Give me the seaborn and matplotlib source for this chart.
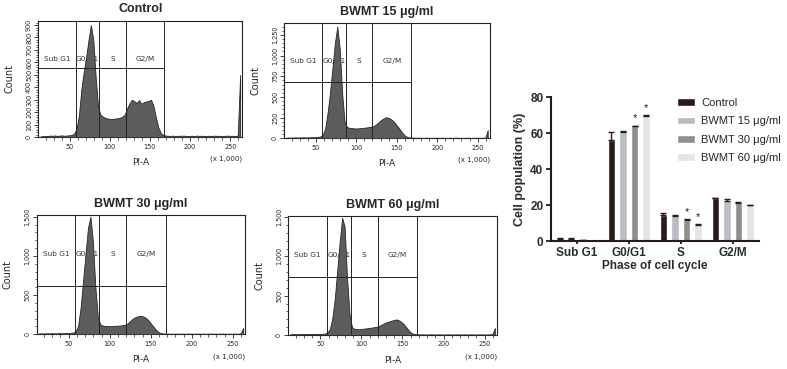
import matplotlib
matplotlib.use("Agg")
import matplotlib.pyplot as plt
import matplotlib.transforms as mtransforms
from matplotlib.ticker import MultipleLocator, FixedLocator, FuncFormatter
import numpy as np
import pandas as pd
import seaborn as sns

# ---------- flow cytometry histograms (PI-A, x 1,000) ----------
bin_edges = list(range(12, 265, 3))
bin_centers = [e + 1.5 for e in bin_edges[:-1]]

control_counts = (
    [6, 9, 11, 10, 13, 12, 14, 11, 13, 15, 12, 14, 16, 18]
    + [28, 65, 170, 380, 520, 640, 780, 900, 780, 480, 240, 180]
    + [165, 155, 150, 147, 145, 150, 152, 156, 165, 180]
    + [230, 270, 300, 290, 275, 298, 268, 282, 286, 292, 300, 250, 160, 80, 35, 18]
    + [14, 12, 11, 13, 10, 12, 11, 13, 12, 10, 11, 12, 10, 13, 11, 12,
       10, 11, 12, 10, 13, 11, 12, 10, 11, 12, 13, 11, 12, 10, 14, 500]
)
bwmt15_counts = (
    [8, 10, 9, 11, 12, 10, 12, 13, 11, 12, 14, 13, 15, 17]
    + [22, 45, 120, 310, 560, 850, 1150, 1350, 1080, 540, 200, 135]
    + [128, 124, 120, 120, 122, 125, 128, 132, 136, 140]
    + [150, 170, 195, 220, 240, 255, 250, 235, 210, 175, 140, 100, 60, 30, 15, 10]
    + [9, 8, 7, 8, 6, 7, 8, 7, 6, 8, 7, 6, 7, 8, 6, 7,
       6, 7, 8, 6, 7, 6, 7, 8, 6, 7, 6, 8, 7, 6, 10, 100]
)
bwmt30_counts = (
    [10, 12, 11, 13, 12, 14, 13, 12, 15, 14, 13, 16, 15, 18]
    + [22, 38, 110, 340, 680, 1030, 1360, 1500, 1180, 600, 220, 125]
    + [112, 106, 105, 104, 106, 108, 110, 112, 116, 120]
    + [138, 165, 195, 215, 228, 235, 232, 220, 195, 160, 120, 80, 45, 22, 12, 9]
    + [8, 9, 7, 8, 9, 7, 8, 8, 7, 9, 8, 7, 8, 9, 7, 8,
       7, 8, 9, 7, 8, 7, 8, 9, 7, 8, 7, 9, 8, 7, 12, 80]
)
bwmt60_counts = (
    [10, 11, 12, 10, 13, 12, 14, 12, 13, 15, 14, 13, 15, 16]
    + [18, 32, 75, 210, 460, 820, 1180, 1490, 1380, 720, 260, 100]
    + [78, 74, 76, 79, 82, 86, 90, 95, 100, 106]
    + [115, 132, 148, 162, 172, 182, 192, 198, 188, 168, 138, 100, 60, 30, 15, 10]
    + [9, 8, 9, 7, 8, 9, 8, 7, 9, 8, 7, 8, 9, 8, 7, 8,
       9, 7, 8, 8, 7, 9, 8, 7, 8, 9, 7, 8, 7, 9, 11, 90]
)

hist_titles = ["Control", "BWMT 15 μg/ml", "BWMT 30 μg/ml", "BWMT 60 μg/ml"]
hist_counts = [control_counts, bwmt15_counts, bwmt30_counts, bwmt60_counts]
hist_ymax = [935, 1390, 1520, 1515]
hist_yticks = [list(range(0, 901, 100)), [0, 250, 500, 750, 1000, 1250],
               [0, 500, 1000, 1500], [0, 500, 1000, 1500]]
gate_levels = [553, 685, 616, 741]
gate_edges = [58, 87, 120, 168]
region_names = ["Sub G1", "G0/G1", "S", "G2/M"]
pi_range = (11, 265)

# ---------- bar chart ----------
phases = ["Sub G1", "G0/G1", "S", "G2/M"]
groups = ["Control", "BWMT 15 μg/ml", "BWMT 30 μg/ml", "BWMT 60 μg/ml"]
control_pct = [1.4, 56.1, 14.6, 23.9]
bwmt15_pct = [1.2, 60.9, 14.2, 22.6]
bwmt30_pct = [0.7, 64.0, 12.1, 21.4]
bwmt60_pct = [0.3, 69.8, 9.2, 20.0]
control_err = [0.3, 4.5, 1.4, 0.3]
bwmt15_err = [0.5, 0.4, 0.3, 1.1]
bwmt30_err = [0.2, 0.3, 0.3, 0.3]
bwmt60_err = [0.1, 0.3, 0.4, 0.4]
significant = [[False] * 4, [False] * 4,
               [False, True, True, False], [False, True, True, False]]
bar_colors = ["#2b1a1a", "#b9bcc3", "#8e9090", "#e3e4e6"]

sns.set_style("ticks")
plt.rcParams["font.family"] = ["DejaVu Sans"]
title_font = ["Liberation Sans", "DejaVu Sans"]

fig = plt.figure(figsize=(7.87, 3.69), dpi=100)

hist_rects = [
    [0.0487, 0.628, 0.259, 0.316],
    [0.3613, 0.625, 0.261, 0.312],
    [0.0466, 0.094, 0.265, 0.323],
    [0.3664, 0.092, 0.265, 0.323],
]

comma = FuncFormatter(lambda v, p: f"{int(v):,}")

for rect, title, counts, ymax, yticks, level in zip(
    hist_rects, hist_titles, hist_counts, hist_ymax, hist_yticks, gate_levels
):
    ax = fig.add_axes(rect)
    hist_df = pd.DataFrame({"pi": bin_centers, "count": counts})
    sns.histplot(
        data=hist_df, x="pi", weights="count", bins=bin_edges, element="poly",
        fill=True, color="#5c5c5c", edgecolor="#262626", linewidth=0.6,
        alpha=1, ax=ax, zorder=3,
    )
    ax.set_xlim(*pi_range)
    ax.set_ylim(0, ymax)

    # gates
    for g in gate_edges:
        ax.axvline(g, color="#222222", lw=0.7, zorder=4)
    ax.hlines(level, pi_range[0], gate_edges[-1], color="#222222", lw=0.7, zorder=4)
    bounds = [pi_range[0]] + gate_edges
    trans = mtransforms.blended_transform_factory(ax.transData, ax.transAxes)
    for name, lo, hi in zip(region_names, bounds[:-1], bounds[1:]):
        ax.text((lo + hi) / 2, 0.67, name, transform=trans, ha="center",
                va="center", fontsize=5.3, color="#333333", zorder=2)

    for s in ax.spines.values():
        s.set_linewidth(0.8)
        s.set_color("#222222")

    ax.xaxis.set_major_locator(MultipleLocator(50))
    ax.xaxis.set_minor_locator(MultipleLocator(10))
    ax.yaxis.set_major_locator(FixedLocator(yticks))
    ax.yaxis.set_minor_locator(MultipleLocator((yticks[1] - yticks[0]) / 5))
    ax.yaxis.set_major_formatter(comma)
    ax.tick_params(which="major", direction="out", length=3, width=0.6,
                   labelsize=4.7, pad=1.5, color="#222222")
    ax.tick_params(which="minor", direction="out", length=1.8, width=0.5,
                   color="#222222")
    ax.tick_params(axis="y", labelrotation=90)
    for lab in ax.get_yticklabels():
        lab.set_va("center")

    ax.set_xlabel("PI-A", fontsize=6.5)
    ax.xaxis.set_label_coords(0.5, -0.175)
    ax.set_ylabel("Count", fontsize=7)
    ax.yaxis.set_label_coords(-0.115, 0.5)
    ax.text(1.0, -0.186, "(x 1,000)", transform=ax.transAxes, ha="right",
            va="center", fontsize=5)
    ax.set_title(title, fontsize=9, fontweight="bold", family=title_font, pad=6)

# ---------- bar chart ----------
df = pd.DataFrame({
    "phase": phases * 4,
    "group": np.repeat(groups, 4),
    "value": control_pct + bwmt15_pct + bwmt30_pct + bwmt60_pct,
})
bax = fig.add_axes([0.700, 0.346, 0.264, 0.390])
sns.barplot(
    data=df, x="phase", y="value", hue="group", hue_order=groups,
    order=phases, palette=bar_colors, width=0.89, gap=0.35,
    errorbar=None, saturation=1, ax=bax,
)
errs = [control_err, bwmt15_err, bwmt30_err, bwmt60_err]
for cont, err, sig in zip(bax.containers, errs, significant):
    xs = [b.get_x() + b.get_width() / 2 for b in cont]
    hs = [b.get_height() for b in cont]
    bax.errorbar(xs, hs, yerr=[np.zeros(len(err)), err], fmt="none",
                 ecolor="#2b1a1a", elinewidth=1, capsize=2.2, capthick=1)
    for x, h, e, s in zip(xs, hs, err, sig):
        if s:
            bax.text(x, h + e + 1.2, "*", ha="center", va="bottom",
                     fontsize=8, color="#2b1a1a", family=title_font)

bax.set_ylim(0, 80)
bax.set_xlim(-0.5, 3.5)
bax.set_yticks([0, 20, 40, 60, 80])
sns.despine(ax=bax)
for side in ["left", "bottom"]:
    bax.spines[side].set_linewidth(1.5)
    bax.spines[side].set_color("#2b1a1a")
bax.tick_params(axis="y", direction="out", length=3.5, width=1.3,
                color="#2b1a1a", pad=2)
bax.tick_params(axis="x", direction="out", length=2.2, width=1.3,
                color="#2b1a1a", pad=1.8)
for lab in bax.get_xticklabels() + bax.get_yticklabels():
    lab.set_fontweight("bold")
    lab.set_fontsize(8.5)
    lab.set_family(title_font)
    lab.set_color("#2b2b2b")
bax.set_xlabel("Phase of cell cycle", fontsize=8.5, fontweight="bold",
               family=title_font, labelpad=1, color="#2b2b2b")
bax.set_ylabel("Cell population (%)", fontsize=9, fontweight="bold",
               family=title_font, labelpad=3, color="#2b2b2b")

handles, labels = bax.get_legend_handles_labels()
bax.legend(
    handles, labels, loc="upper left", bbox_to_anchor=(677 / 787, 0.734),
    bbox_transform=fig.transFigure, frameon=False, borderpad=0,
    borderaxespad=0, handlelength=1.6, handleheight=0.7, handletextpad=0.6,
    labelspacing=0.75, prop={"family": title_font, "size": 8},
)

fig.savefig("out.png", dpi=100)
